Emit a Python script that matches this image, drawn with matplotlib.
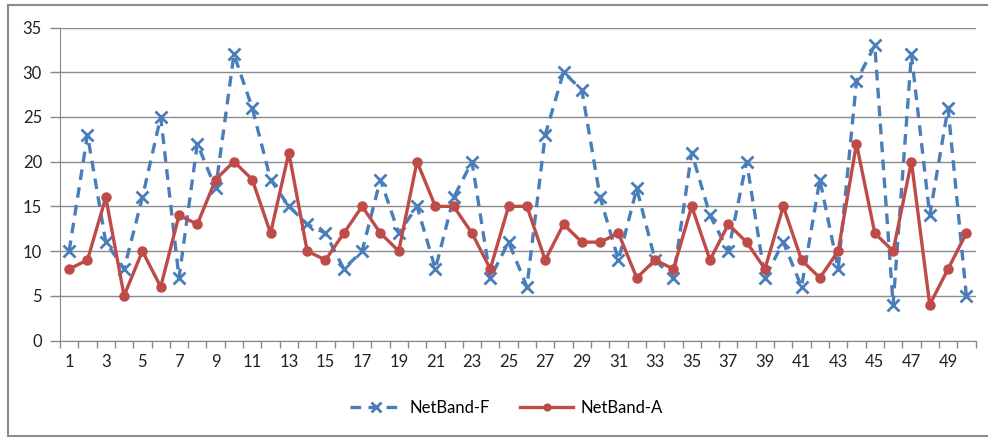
import matplotlib.pyplot as plt
from matplotlib.lines import Line2D

plt.rcParams['font.family'] = ['Lato', 'DejaVu Sans']

# dados
pontos = list(range(1, 51))
netband_f = [10, 23, 11, 8, 16, 25, 7, 22, 17, 32,
             26, 18, 15, 13, 12, 8, 10, 18, 12, 15,
             8, 16, 20, 7, 11, 6, 23, 30, 28, 16,
             9, 17, 9, 7, 21, 14, 10, 20, 7, 11,
             6, 18, 8, 29, 33, 4, 32, 14, 26, 5]
netband_a = [8, 9, 16, 5, 10, 6, 14, 13, 18, 20,
             18, 12, 21, 10, 9, 12, 15, 12, 10, 20,
             15, 15, 12, 8, 15, 15, 9, 13, 11, 11,
             12, 7, 9, 8, 15, 9, 13, 11, 8, 15,
             9, 7, 10, 22, 12, 10, 20, 4, 8, 12]
rotulos_x = [str(i) for i in range(1, 51, 2)]

azul = '#4a7ebb'
vermelho = '#be4b48'

fig = plt.figure(figsize=(9.88, 4.38), dpi=100)
ax = fig.add_axes([60 / 988, 1 - 340.5 / 438, 915.5 / 988, 313 / 438])

ax.plot(pontos, netband_f, color=azul, linestyle=(0, (3.2, 2.2)), linewidth=2.4,
        marker='x', markersize=9, markeredgewidth=2, label='NetBand-F', zorder=3)
ax.plot(pontos, netband_a, color=vermelho, linestyle='-', linewidth=2.4,
        marker='o', markersize=6.5, label='NetBand-A', zorder=4)

ax.set_xlim(0.5, 50.5)
ax.set_ylim(0, 35)
ax.set_yticks(range(0, 36, 5))
ax.set_xticks(range(1, 51, 2))
ax.set_xticklabels(rotulos_x)
ax.set_xticks([i + 0.5 for i in range(0, 51)], minor=True)
ax.tick_params(axis='x', which='major', length=0, pad=10, labelsize=12, colors='#222222')
ax.tick_params(axis='x', which='minor', length=5, width=1, color='#888888', direction='out')
ax.tick_params(axis='y', length=7, width=1, color='#888888', pad=6, labelsize=12, colors='#222222')
ax.tick_params(axis='y', colors='#888888', labelcolor='#222222')

ax.grid(axis='y', color='#8c8c8c', linewidth=1)
ax.set_axisbelow(True)
for lado in ['top', 'right']:
    ax.spines[lado].set_visible(False)
ax.spines['left'].set_color('#888888')
ax.spines['bottom'].set_color('#888888')

ax.legend(loc='center', bbox_to_anchor=(506 / 988, 1 - 408 / 438),
          bbox_transform=fig.transFigure, ncol=2, frameon=False, fontsize=12,
          handlelength=3.2, columnspacing=1.8, handletextpad=0.4, markerscale=0.75)

# moldura externa
fig.add_artist(Line2D([8 / 988, 8 / 988], [1 - 436 / 438, 1 - 5 / 438], color='#8c8c8c', lw=1.5))
fig.add_artist(Line2D([8 / 988, 1], [1 - 5 / 438, 1 - 5 / 438], color='#8c8c8c', lw=1.5))
fig.add_artist(Line2D([8 / 988, 1], [1 - 436 / 438, 1 - 436 / 438], color='#8c8c8c', lw=1.5))

fig.savefig('out.png', dpi=100)
